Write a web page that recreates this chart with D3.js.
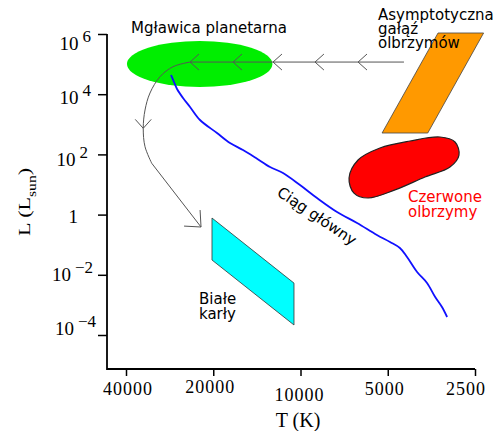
<!DOCTYPE html>
<html>
<head>
<meta charset="utf-8">
<script src="https://cdn.jsdelivr.net/npm/d3@7"></script>
<style>
  body { margin: 0; background: #fff; }
  svg { display: block; }
  .serif { font-family: "Liberation Serif", "Times New Roman", serif; }
  .lbl { font-family: "DejaVu Sans", Verdana, sans-serif; font-size: 15px; }
</style>
</head>
<body>
<svg id="chart"></svg>
<script>
// Axis ticks
const xTicks = [40000, 20000, 10000, 5000, 2500];
const yTicks = [1e6, 1e4, 1e2, 1, 1e-2, 1e-4];
const yTickExp = ['6', '4', '2', '', '\u22122', '\u22124'];

// Main sequence (T in K, L in Lsun)
const msT = [27970, 27320, 26670, 25430, 24050, 22220, 19410, 17510, 15790, 14240,
             12740, 11490, 10040, 8770, 7480, 6380, 5450, 4910, 4540, 4290,
             3960, 3660, 3430, 3250, 3120];
const msL = [43450, 25410, 14890, 7480, 3760, 1390, 514, 239, 140, 75.9,
             38.1, 24.1, 9.6, 3.56, 1.22, 0.526, 0.21, 0.123, 0.0776, 0.039,
             0.0124, 0.00535, 0.00183, 0.00085, 0.000396];

// Evolution track: AGB -> planetary nebula -> white dwarf
const trackLineT = [4395, 24050];
const trackLineL = [1.17e5, 1.17e5];
const trackCurveT = [24050, 27530, 30530, 33060, 34390, 34880, 34390, 32600];
const trackCurveL = [1.17e5, 82000, 38100, 10960, 2985, 736, 180, 50.6];
const trackEndT = [32600, 22040];
const trackEndL = [50.6, 0.387];
const chevronT = [8913, 6330, 12440, 17090, 24050];
const chevronL = 1.17e5;
const curveChevron = [34880, 736];

// Regions
const nebulaT = [39700, 12500];
const nebulaL = [1.74e4, 5.86e5];
const agbT = [3353, 2335, 3639, 5230];
const agbL = [1.08e6, 1.08e6, 513, 513];
const rgT = [6800, 6330, 5320, 4190, 3300, 2930, 2839, 3050, 3720, 4720, 5850, 6540];
const rgL = [16.4, 65, 163, 279, 378, 258, 95, 38, 17.7, 6.6, 3.56, 5.2];
const wdT = [20200, 20200, 10530, 10530];
const wdL = [0.77, 0.031, 2.15e-4, 5.3e-3];

// Setup
const width = 499, height = 431;
const axisX = 107, axisY = 369;

const svg = d3.select('#chart')
  .attr('width', width)
  .attr('height', height);

const x = d3.scaleLog().domain([40000, 2500]).range([126, 475]);
const y = d3.scaleLog().domain([1e-4, 1e6]).range([335, 34]);

const line = d3.line().x(d => x(d[0])).y(d => y(d[1]));
const smooth = d3.line().x(d => x(d[0])).y(d => y(d[1])).curve(d3.curveCatmullRom);

// Regions
svg.append('ellipse')
  .attr('cx', (x(nebulaT[0]) + x(nebulaT[1])) / 2)
  .attr('cy', (y(nebulaL[0]) + y(nebulaL[1])) / 2)
  .attr('rx', Math.abs(x(nebulaT[1]) - x(nebulaT[0])) / 2)
  .attr('ry', Math.abs(y(nebulaL[0]) - y(nebulaL[1])) / 2)
  .attr('fill', '#00ee00');

svg.append('path')
  .attr('d', line(d3.zip(agbT, agbL)) + 'Z')
  .attr('fill', '#ff9900')
  .attr('stroke', '#444')
  .attr('stroke-width', 0.8);

svg.append('path')
  .attr('d', d3.line().x(d => x(d[0])).y(d => y(d[1])).curve(d3.curveCatmullRomClosed)(d3.zip(rgT, rgL)))
  .attr('fill', '#ff0000')
  .attr('stroke', '#222')
  .attr('stroke-width', 1.2);

svg.append('path')
  .attr('d', line(d3.zip(wdT, wdL)) + 'Z')
  .attr('fill', '#00ffff')
  .attr('stroke', '#333')
  .attr('stroke-width', 0.8);

// Main sequence
svg.append('path')
  .attr('d', smooth(d3.zip(msT, msL)))
  .attr('fill', 'none')
  .attr('stroke', '#1010ff')
  .attr('stroke-width', 1.8);

// Evolution track
const track = svg.append('g')
  .attr('fill', 'none')
  .attr('stroke', '#555')
  .attr('stroke-width', 1);

track.append('path').attr('d', line(d3.zip(trackLineT, trackLineL)));
track.append('path').attr('d', smooth(d3.zip(trackCurveT, trackCurveL)));
track.append('path').attr('d', line(d3.zip(trackEndT, trackEndL)));

function chevron(px, py, ang, len) {
  const back = ang + Math.PI;
  const a1 = back - Math.PI / 4.3, a2 = back + Math.PI / 4.3;
  return `M${px + len * Math.cos(a1)},${py + len * Math.sin(a1)}L${px},${py}L${px + len * Math.cos(a2)},${py + len * Math.sin(a2)}`;
}

chevronT.forEach(t => {
  track.append('path').attr('d', chevron(x(t), y(chevronL), Math.PI, 12));
});
track.append('path').attr('d', chevron(x(curveChevron[0]), y(curveChevron[1]), Math.PI / 2, 12));
track.append('path').attr('d', chevron(x(trackEndT[1]), y(trackEndL[1]), Math.PI / 4, 17));

// Axes
const xAxis = svg.append('g')
  .attr('transform', `translate(0,${axisY})`)
  .call(d3.axisBottom(x).tickValues(xTicks).tickSize(7).tickFormat(''));
xAxis.select('.domain').remove();
xAxis.selectAll('.tick line').attr('stroke-width', 1.5);
xAxis.append('line')
  .attr('x1', axisX).attr('x2', x(2500))
  .attr('stroke', '#000').attr('stroke-width', 1.8);

const xLabelDx = [2, -3, -1, -3, -9];
const xLabelDy = [26, 24, 32, 26, 26];
xTicks.forEach((t, i) => {
  svg.append('text')
    .attr('class', 'serif')
    .attr('x', x(t) + xLabelDx[i])
    .attr('y', axisY + xLabelDy[i])
    .attr('text-anchor', 'middle')
    .attr('font-size', 18)
    .attr('letter-spacing', 1)
    .text(d3.format('d')(t));
});

const yAxis = svg.append('g')
  .attr('transform', `translate(${axisX},0)`)
  .call(d3.axisLeft(y).tickValues(yTicks).tickSize(9).tickFormat(''));
yAxis.select('.domain').remove();
yAxis.selectAll('.tick line').attr('stroke-width', 1.5);
yAxis.append('line')
  .attr('y1', y(1e6)).attr('y2', axisY + 0.9)
  .attr('stroke', '#000').attr('stroke-width', 1.8);

const yLabelX = [91, 91, 88, 78, 93, 96];
const yLabelDy = [16, 10, 12, 8, 6, 0];
yTicks.forEach((t, i) => {
  const txt = svg.append('text')
    .attr('class', 'serif')
    .attr('x', yLabelX[i])
    .attr('y', y(t) + yLabelDy[i])
    .attr('text-anchor', 'end')
    .attr('font-size', 19);
  if (t === 1) {
    txt.text('1');
  } else {
    txt.append('tspan').text('10');
    txt.append('tspan').attr('dx', 4).attr('dy', -8).attr('font-size', 17).text(yTickExp[i]);
  }
});

// Axis titles
svg.append('text')
  .attr('class', 'serif')
  .attr('x', 298)
  .attr('y', 427)
  .attr('text-anchor', 'middle')
  .attr('font-size', 20)
  .text('T (K)');

const yTitle = svg.append('text')
  .attr('class', 'serif')
  .attr('transform', 'translate(30,236) rotate(-90) scale(1.3,1)')
  .attr('font-size', 17)
  .attr('font-weight', 'normal');
yTitle.append('tspan').text('L (L');
yTitle.append('tspan').attr('dy', 6).attr('font-size', 12).text('sun');
yTitle.append('tspan').attr('dy', -6).text(')');

// Region labels
svg.append('text').attr('class', 'lbl').attr('x', 131).attr('y', 33).text('Mgławica planetarna');

const agbLabel = svg.append('text').attr('class', 'lbl');
['Asymptotyczna', 'gałąź', 'olbrzymów'].forEach((s, i) => {
  agbLabel.append('tspan').attr('x', 378).attr('y', 20 + i * 14).text(s);
});

const rgLabel = svg.append('text').attr('class', 'lbl').attr('fill', '#ff0000');
['Czerwone', 'olbrzymy'].forEach((s, i) => {
  rgLabel.append('tspan').attr('x', 408).attr('y', 202 + i * 15).text(s);
});

const wdLabel = svg.append('text').attr('class', 'lbl');
['Białe', 'karły'].forEach((s, i) => {
  wdLabel.append('tspan').attr('x', 199).attr('y', 304 + i * 15).text(s);
});

svg.append('text')
  .attr('class', 'lbl')
  .attr('text-anchor', 'middle')
  .attr('dy', '0.35em')
  .attr('transform', 'translate(317,216) rotate(34)')
  .text('Ciąg główny');
</script>
</body>
</html>
